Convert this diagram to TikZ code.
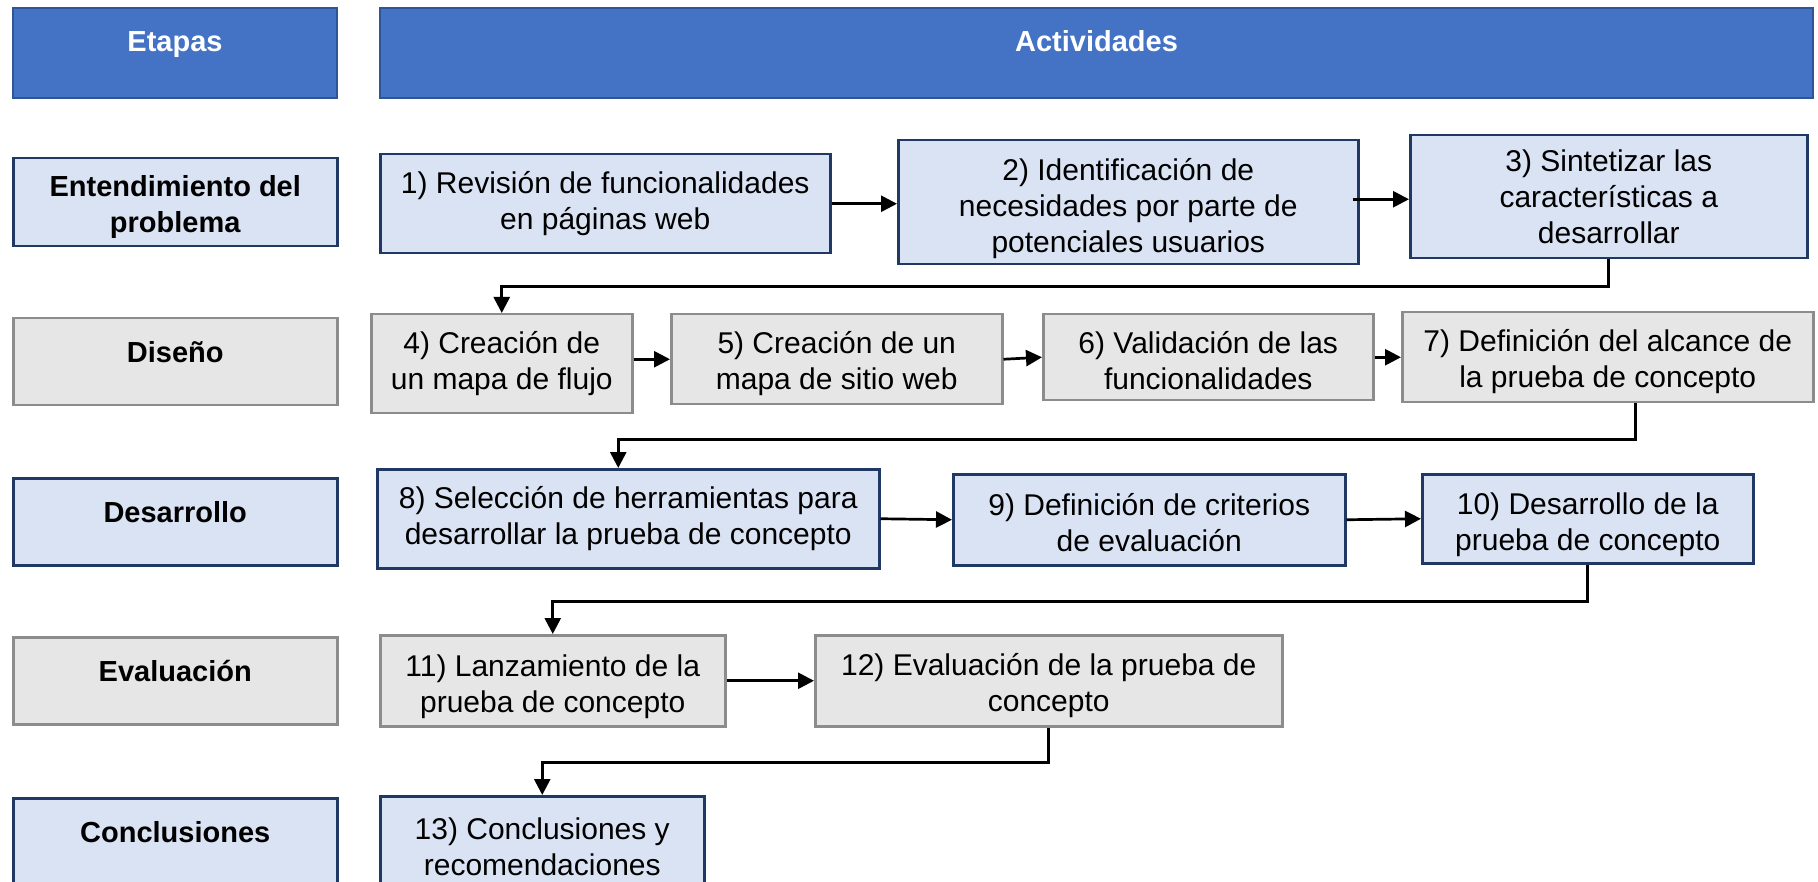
\documentclass[tikz,border=0pt]{standalone}
\usepackage{fontspec}
\setmainfont{Liberation Sans}
\usetikzlibrary{arrows.meta,calc}
\definecolor{hdrblue}{HTML}{4472C4}
\definecolor{hdredge}{HTML}{2F5597}
\definecolor{ltblue}{HTML}{DAE3F3}
\definecolor{navy}{HTML}{1F3864}
\definecolor{ltgray}{HTML}{E7E6E6}
\definecolor{midgray}{HTML}{8C8C8C}
\begin{document}
\begin{tikzpicture}[x=1pt,y=-1pt,
 frame/.style={rectangle, inner sep=0pt, anchor=north west},
 hdr/.style={frame, draw=hdredge, fill=hdrblue, line width=2pt},
 bluebox/.style={frame, draw=navy, fill=ltblue, line width=2.5pt},
 graybox/.style={frame, draw=midgray, fill=ltgray, line width=2.5pt},
 txt/.style={anchor=north, inner sep=0pt, align=center, font=\fontsize{30}{36}\selectfont, execute at begin node={\rule{0pt}{27pt}}},
 boldtxt/.style={txt, font=\fontsize{29}{36}\selectfont\bfseries},
 hdrtxt/.style={boldtxt, text=white},
 arr/.style={line width=2.7pt, -{Triangle[length=16pt,width=16pt]}}
]
\clip (0,0) rectangle (1818,882);
\fill[white] (0,0) rectangle (1818,882);

% headers
\node[hdr, minimum width=324pt, minimum height=90pt] (hE) at (12,7) {};
\node[hdrtxt] (hEt) at ([yshift=-17pt]hE.north) {Etapas};
\node[hdr, minimum width=1433pt, minimum height=90pt] (hA) at (379,7) {};
\node[hdrtxt] (hAt) at ([yshift=-17pt]hA.north) {Actividades};

% stages
\node[bluebox, minimum width=324pt, minimum height=88pt] (s1) at (12,157) {};
\node[boldtxt] (s1t) at ([yshift=-18pt]s1.north) {Entendimiento del\\problema};
\node[graybox, minimum width=324pt, minimum height=87pt] (s2) at (12,317) {};
\node[boldtxt] (s2t) at ([yshift=-18pt]s2.north) {Diseño};
\node[bluebox, minimum width=324pt, minimum height=87pt] (s3) at (12,477) {};
\node[boldtxt] (s3t) at ([yshift=-18pt]s3.north) {Desarrollo};
\node[graybox, minimum width=324pt, minimum height=87pt] (s4) at (12,636) {};
\node[boldtxt] (s4t) at ([yshift=-18pt]s4.north) {Evaluación};
\node[bluebox, minimum width=324pt, minimum height=103pt] (s5) at (12,797) {};
\node[boldtxt] (s5t) at ([yshift=-18pt]s5.north) {Conclusiones};

% activities
\node[bluebox, minimum width=450pt, minimum height=99pt] (b1) at (379,153) {};
\node[txt] (t1) at ([yshift=-18pt]b1.north) {1) Revisión de funcionalidades\\en páginas web};
\node[bluebox, minimum width=460pt, minimum height=124pt] (b2) at (897,139) {};
\node[txt] (t2) at ([yshift=-19pt]b2.north) {2) Identificación de\\necesidades por parte de\\potenciales usuarios};
\node[bluebox, minimum width=397pt, minimum height=123pt] (b3) at (1409,134) {};
\node[txt] (t3) at ([yshift=-16pt]b3.north) {3) Sintetizar las\\características a\\desarrollar};

\node[graybox, minimum width=261pt, minimum height=99pt] (b4) at (370,313) {};
\node[txt] (t4) at ([yshift=-18pt]b4.north) {4) Creación de\\un mapa de flujo};
\node[graybox, minimum width=331pt, minimum height=90pt] (b5) at (670,313) {};
\node[txt] (t5) at ([yshift=-18pt]b5.north) {5) Creación de un\\mapa de sitio web};
\node[graybox, minimum width=330pt, minimum height=86pt] (b6) at (1042,313) {};
\node[txt] (t6) at ([yshift=-18pt]b6.north) {6) Validación de las\\funcionalidades};
\node[graybox, minimum width=411pt, minimum height=90pt] (b7) at (1401,311) {};
\node[txt] (t7) at ([yshift=-18pt]b7.north) {7) Definición del alcance de\\la prueba de concepto};

\node[bluebox, minimum width=502pt, minimum height=99pt] (b8) at (376,468) {};
\node[txt] (t8) at ([yshift=-18pt]b8.north) {8) Selección de herramientas para\\desarrollar la prueba de concepto};
\node[bluebox, minimum width=392pt, minimum height=91pt] (b9) at (952,473) {};
\node[txt] (t9) at ([yshift=-20pt]b9.north) {9) Definición de criterios\\de evaluación};
\node[bluebox, minimum width=331pt, minimum height=89pt] (b10) at (1421,473) {};
\node[txt] (t10) at ([yshift=-20pt]b10.north) {10) Desarrollo de la\\prueba de concepto};

\node[graybox, minimum width=345pt, minimum height=91pt] (b11) at (379,634) {};
\node[txt] (t11) at ([yshift=-21pt]b11.north) {11) Lanzamiento de la\\prueba de concepto};
\node[graybox, minimum width=467pt, minimum height=91pt] (b12) at (814,634) {};
\node[txt] (t12) at ([yshift=-19pt]b12.north) {12) Evaluación de la prueba de\\concepto};

\node[bluebox, minimum width=324pt, minimum height=105pt] (b13) at (379,795) {};
\node[txt] (t13) at ([yshift=-23pt]b13.north) {13) Conclusiones y\\recomendaciones};

% connectors
\draw[arr] (b1.east) -- (b1.east -| b2.west);
\draw[arr] ([xshift=-7pt,yshift=3pt]b2.east) -- ([yshift=3pt]b2.east -| b3.west);
\draw[arr] (b3.south) -- ++(0,27) -| (b4.north);
\draw[arr] (b4.east |- b5.west) -- (b5.west);
\draw[arr] (b5.east) -- (b6.west);
\draw[arr] (b6.east) -- (b7.west);
\draw[arr] ([xshift=28pt]b7.south) -- ++(0,36) -| ([xshift=-10pt]b8.north);
\draw[arr] (b8.east) -- (b9.west);
\draw[arr] (b9.east) -- (b10.west);
\draw[arr] (b10.south) -- ++(0,37) -| (b11.north);
\draw[arr] (b11.east) -- (b12.west);
\draw[arr] (b12.south) -- ++(0,35) -| (b13.north);
\end{tikzpicture}
\end{document}
